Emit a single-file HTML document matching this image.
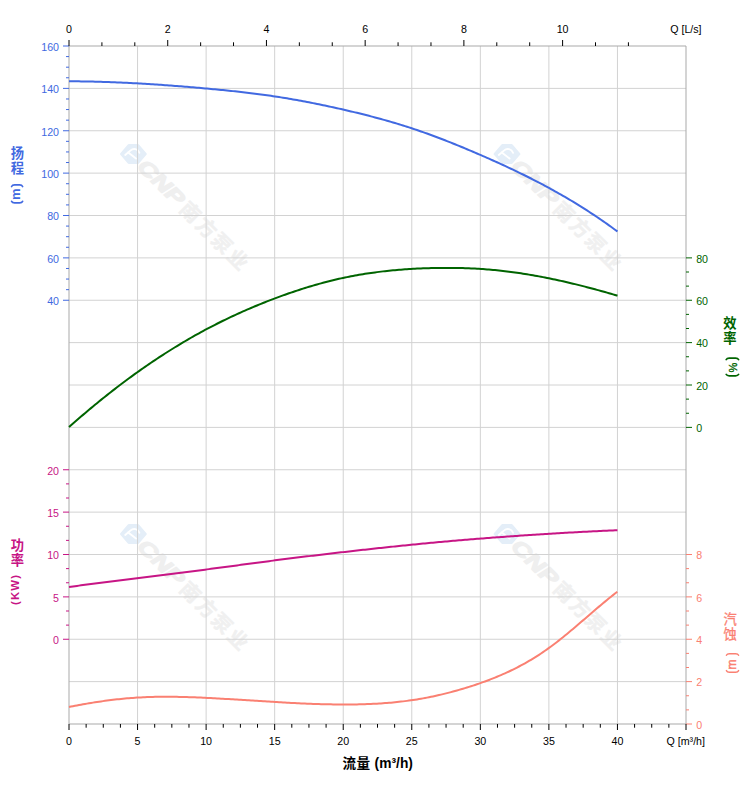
<!DOCTYPE html>
<html><head><meta charset="utf-8"><title>Pump curve</title>
<style>
html,body{margin:0;padding:0;background:#fff;}
body{width:752px;height:797px;overflow:hidden;font-family:"Liberation Sans",sans-serif;}
svg{display:block;}
</style></head><body>
<svg width="752" height="797" viewBox="0 0 752 797">
<rect width="752" height="797" fill="#fff"/>
<g id="wm">
<g transform="translate(133.4 154)">
<path d="M-12.1 0L-4.6 -8.6H4.6L12.1 0L4.6 8.6H-4.6Z" fill="#e4eef8" stroke="#e4eef8" stroke-width="2.6" stroke-linejoin="round"/>
<g fill="none" stroke="#fff" stroke-width="1.9" stroke-linecap="round"><path d="M-8.2 0.9L-2.8 -3.6C0 -6.2 4.6 -5.2 6 -1.2"/><path d="M-5.2 -1.6L2.6 4.6"/></g>
<g transform="rotate(45)">
<text transform="translate(10.5 7.4) scale(1.3 1) skewX(-10)" font-family="'Liberation Sans',sans-serif" font-weight="bold" font-size="20.5" fill="#efefef" stroke="#efefef" stroke-width="1.3" stroke-linejoin="round">CNP</text>
<text x="71.5 94 116 138.5" y="7.9" font-family="'Liberation Sans','Noto Sans CJK SC',sans-serif" font-weight="bold" font-size="20" fill="#f0f0f0" stroke="#f0f0f0" stroke-width="0.4">南方泵业</text>
</g></g>
<g transform="translate(133.4 534)">
<path d="M-12.1 0L-4.6 -8.6H4.6L12.1 0L4.6 8.6H-4.6Z" fill="#e4eef8" stroke="#e4eef8" stroke-width="2.6" stroke-linejoin="round"/>
<g fill="none" stroke="#fff" stroke-width="1.9" stroke-linecap="round"><path d="M-8.2 0.9L-2.8 -3.6C0 -6.2 4.6 -5.2 6 -1.2"/><path d="M-5.2 -1.6L2.6 4.6"/></g>
<g transform="rotate(45)">
<text transform="translate(10.5 7.4) scale(1.3 1) skewX(-10)" font-family="'Liberation Sans',sans-serif" font-weight="bold" font-size="20.5" fill="#efefef" stroke="#efefef" stroke-width="1.3" stroke-linejoin="round">CNP</text>
<text x="71.5 94 116 138.5" y="7.9" font-family="'Liberation Sans','Noto Sans CJK SC',sans-serif" font-weight="bold" font-size="20" fill="#f0f0f0" stroke="#f0f0f0" stroke-width="0.4">南方泵业</text>
</g></g>
<g transform="translate(507 154)">
<path d="M-12.1 0L-4.6 -8.6H4.6L12.1 0L4.6 8.6H-4.6Z" fill="#e4eef8" stroke="#e4eef8" stroke-width="2.6" stroke-linejoin="round"/>
<g fill="none" stroke="#fff" stroke-width="1.9" stroke-linecap="round"><path d="M-8.2 0.9L-2.8 -3.6C0 -6.2 4.6 -5.2 6 -1.2"/><path d="M-5.2 -1.6L2.6 4.6"/></g>
<g transform="rotate(45)">
<text transform="translate(10.5 7.4) scale(1.3 1) skewX(-10)" font-family="'Liberation Sans',sans-serif" font-weight="bold" font-size="20.5" fill="#efefef" stroke="#efefef" stroke-width="1.3" stroke-linejoin="round">CNP</text>
<text x="71.5 94 116 138.5" y="7.9" font-family="'Liberation Sans','Noto Sans CJK SC',sans-serif" font-weight="bold" font-size="20" fill="#f0f0f0" stroke="#f0f0f0" stroke-width="0.4">南方泵业</text>
</g></g>
<g transform="translate(507 534)">
<path d="M-12.1 0L-4.6 -8.6H4.6L12.1 0L4.6 8.6H-4.6Z" fill="#e4eef8" stroke="#e4eef8" stroke-width="2.6" stroke-linejoin="round"/>
<g fill="none" stroke="#fff" stroke-width="1.9" stroke-linecap="round"><path d="M-8.2 0.9L-2.8 -3.6C0 -6.2 4.6 -5.2 6 -1.2"/><path d="M-5.2 -1.6L2.6 4.6"/></g>
<g transform="rotate(45)">
<text transform="translate(10.5 7.4) scale(1.3 1) skewX(-10)" font-family="'Liberation Sans',sans-serif" font-weight="bold" font-size="20.5" fill="#efefef" stroke="#efefef" stroke-width="1.3" stroke-linejoin="round">CNP</text>
<text x="71.5 94 116 138.5" y="7.9" font-family="'Liberation Sans','Noto Sans CJK SC',sans-serif" font-weight="bold" font-size="20" fill="#f0f0f0" stroke="#f0f0f0" stroke-width="0.4">南方泵业</text>
</g></g>
</g>
<path d="M69 88.38H686M69 130.75H686M69 173.12H686M69 215.5H686M69 257.88H686M69 300.25H686M69 342.62H686M69 385H686M69 427.38H686M69 469.75H686M69 512.12H686M69 554.5H686M69 596.88H686M69 639.25H686M69 681.62H686M137.56 46V724M206.11 46V724M274.67 46V724M343.22 46V724M411.78 46V724M480.33 46V724M548.89 46V724M617.44 46V724" stroke="#d2d2d2" stroke-width="1" fill="none"/>
<path d="M69 46H686V724H69Z" stroke="#a9a9a9" stroke-width="1" fill="none"/>
<path d="M69 81.3 71 81.31 73 81.32 75 81.33 77 81.35 79 81.37 81 81.4 83 81.43 85 81.46 87 81.5 89 81.53 91 81.58 93 81.62 95 81.67 97 81.72 99 81.78 101 81.83 103 81.89 105 81.96 107 82.02 109 82.09 111 82.17 113 82.24 115 82.32 117 82.4 119 82.49 121 82.57 123 82.66 125 82.76 127 82.85 129 82.95 131 83.05 133 83.15 135 83.26 137 83.37 139 83.48 141 83.59 143 83.71 145 83.83 147 83.95 149 84.07 151 84.2 153 84.33 155 84.46 157 84.59 159 84.73 161 84.86 163 85 165 85.15 167 85.29 169 85.44 171 85.58 173 85.74 175 85.89 177 86.04 179 86.2 181 86.36 183 86.52 185 86.68 187 86.84 189 87.01 191 87.18 193 87.35 195 87.52 197 87.69 199 87.87 201 88.04 203 88.22 205 88.4 207 88.58 209 88.76 211 88.95 213 89.13 215 89.32 217 89.51 219 89.71 221 89.9 223 90.1 225 90.3 227 90.5 229 90.71 231 90.91 233 91.13 235 91.34 237 91.56 239 91.78 241 92 243 92.23 245 92.46 247 92.7 249 92.94 251 93.18 253 93.43 255 93.68 257 93.93 259 94.19 261 94.46 263 94.73 265 95 267 95.28 269 95.57 271 95.86 273 96.15 275 96.45 277 96.76 279 97.07 281 97.38 283 97.71 285 98.03 287 98.36 289 98.7 291 99.04 293 99.39 295 99.74 297 100.1 299 100.46 301 100.83 303 101.2 305 101.58 307 101.96 309 102.34 311 102.73 313 103.13 315 103.53 317 103.93 319 104.34 321 104.75 323 105.17 325 105.59 327 106.01 329 106.44 331 106.87 333 107.31 335 107.75 337 108.19 339 108.64 341 109.09 343 109.55 345 110.01 347 110.47 349 110.94 351 111.41 353 111.88 355 112.36 357 112.84 359 113.33 361 113.82 363 114.32 365 114.82 367 115.33 369 115.84 371 116.36 373 116.88 375 117.41 377 117.95 379 118.49 381 119.03 383 119.59 385 120.15 387 120.71 389 121.28 391 121.86 393 122.45 395 123.04 397 123.64 399 124.25 401 124.86 403 125.48 405 126.11 407 126.75 409 127.39 411 128.04 413 128.7 415 129.37 417 130.05 419 130.74 421 131.43 423 132.13 425 132.84 427 133.55 429 134.27 431 135 433 135.74 435 136.48 437 137.23 439 137.99 441 138.76 443 139.52 445 140.3 447 141.08 449 141.87 451 142.66 453 143.46 455 144.27 457 145.08 459 145.9 461 146.72 463 147.54 465 148.38 467 149.21 469 150.05 471 150.9 473 151.75 475 152.6 477 153.46 479 154.32 481 155.19 483 156.06 485 156.93 487 157.81 489 158.7 491 159.58 493 160.48 495 161.37 497 162.27 499 163.18 501 164.09 503 165.01 505 165.93 507 166.86 509 167.8 511 168.74 513 169.69 515 170.64 517 171.6 519 172.57 521 173.54 523 174.52 525 175.51 527 176.5 529 177.5 531 178.51 533 179.53 535 180.55 537 181.59 539 182.63 541 183.68 543 184.74 545 185.8 547 186.88 549 187.96 551 189.05 553 190.16 555 191.27 557 192.39 559 193.52 561 194.66 563 195.81 565 196.97 567 198.14 569 199.32 571 200.51 573 201.71 575 202.93 577 204.15 579 205.39 581 206.63 583 207.89 585 209.16 587 210.44 589 211.73 591 213.04 593 214.36 595 215.69 597 217.03 599 218.38 601 219.75 603 221.13 605 222.53 607 223.93 609 225.35 611 226.79 613 228.23 615 229.69 617 231.17 617.44 231.5" stroke="#4169e1" stroke-width="2" fill="none" stroke-linejoin="round" stroke-linecap="butt"/>
<path d="M69 427.1 71 425.32 73 423.55 75 421.8 77 420.05 79 418.31 81 416.59 83 414.87 85 413.17 87 411.47 89 409.79 91 408.11 93 406.45 95 404.8 97 403.15 99 401.52 101 399.9 103 398.29 105 396.69 107 395.1 109 393.52 111 391.95 113 390.39 115 388.84 117 387.3 119 385.77 121 384.26 123 382.75 125 381.25 127 379.77 129 378.29 131 376.83 133 375.37 135 373.93 137 372.5 139 371.07 141 369.66 143 368.26 145 366.87 147 365.49 149 364.12 151 362.76 153 361.41 155 360.07 157 358.74 159 357.42 161 356.11 163 354.81 165 353.53 167 352.25 169 350.98 171 349.73 173 348.48 175 347.25 177 346.03 179 344.81 181 343.61 183 342.42 185 341.24 187 340.06 189 338.9 191 337.75 193 336.61 195 335.48 197 334.36 199 333.26 201 332.16 203 331.07 205 329.99 207 328.93 209 327.87 211 326.83 213 325.79 215 324.77 217 323.75 219 322.75 221 321.75 223 320.77 225 319.79 227 318.83 229 317.87 231 316.92 233 315.99 235 315.06 237 314.14 239 313.23 241 312.33 243 311.44 245 310.56 247 309.69 249 308.83 251 307.97 253 307.13 255 306.29 257 305.46 259 304.64 261 303.83 263 303.03 265 302.23 267 301.44 269 300.66 271 299.89 273 299.13 275 298.37 277 297.63 279 296.89 281 296.16 283 295.43 285 294.72 287 294.01 289 293.31 291 292.62 293 291.94 295 291.26 297 290.6 299 289.94 301 289.3 303 288.66 305 288.03 307 287.41 309 286.8 311 286.2 313 285.61 315 285.03 317 284.46 319 283.89 321 283.34 323 282.8 325 282.27 327 281.74 329 281.23 331 280.73 333 280.24 335 279.76 337 279.29 339 278.83 341 278.38 343 277.95 345 277.52 347 277.11 349 276.7 351 276.31 353 275.93 355 275.55 357 275.19 359 274.84 361 274.5 363 274.17 365 273.85 367 273.54 369 273.23 371 272.94 373 272.66 375 272.39 377 272.12 379 271.87 381 271.62 383 271.38 385 271.16 387 270.94 389 270.73 391 270.52 393 270.33 395 270.15 397 269.97 399 269.8 401 269.64 403 269.48 405 269.34 407 269.2 409 269.07 411 268.95 413 268.83 415 268.72 417 268.62 419 268.52 421 268.44 423 268.36 425 268.28 427 268.21 429 268.15 431 268.1 433 268.05 435 268.01 437 267.98 439 267.95 441 267.93 443 267.91 445 267.9 447 267.9 449 267.9 451 267.91 453 267.93 455 267.95 457 267.98 459 268.02 461 268.06 463 268.11 465 268.17 467 268.24 469 268.31 471 268.4 473 268.49 475 268.59 477 268.7 479 268.82 481 268.94 483 269.08 485 269.23 487 269.38 489 269.55 491 269.72 493 269.9 495 270.09 497 270.29 499 270.5 501 270.72 503 270.94 505 271.18 507 271.42 509 271.67 511 271.93 513 272.2 515 272.47 517 272.75 519 273.05 521 273.34 523 273.65 525 273.97 527 274.29 529 274.62 531 274.96 533 275.3 535 275.65 537 276.01 539 276.38 541 276.76 543 277.14 545 277.53 547 277.92 549 278.32 551 278.73 553 279.15 555 279.57 557 280 559 280.43 561 280.88 563 281.32 565 281.78 567 282.24 569 282.71 571 283.18 573 283.66 575 284.14 577 284.63 579 285.13 581 285.63 583 286.14 585 286.65 587 287.17 589 287.7 591 288.23 593 288.76 595 289.3 597 289.85 599 290.4 601 290.95 603 291.51 605 292.08 607 292.65 609 293.22 611 293.8 613 294.39 615 294.98 617 295.57 617.44 295.7" stroke="#006400" stroke-width="2" fill="none" stroke-linejoin="round" stroke-linecap="butt"/>
<path d="M69 587 71 586.72 73 586.45 75 586.17 77 585.9 79 585.63 81 585.36 83 585.09 85 584.82 87 584.55 89 584.29 91 584.02 93 583.76 95 583.5 97 583.24 99 582.98 101 582.72 103 582.46 105 582.2 107 581.94 109 581.69 111 581.43 113 581.18 115 580.92 117 580.67 119 580.42 121 580.17 123 579.92 125 579.66 127 579.41 129 579.16 131 578.92 133 578.67 135 578.42 137 578.17 139 577.92 141 577.67 143 577.43 145 577.18 147 576.93 149 576.68 151 576.44 153 576.19 155 575.94 157 575.69 159 575.45 161 575.2 163 574.95 165 574.7 167 574.45 169 574.21 171 573.96 173 573.71 175 573.46 177 573.21 179 572.96 181 572.71 183 572.46 185 572.2 187 571.95 189 571.7 191 571.44 193 571.19 195 570.93 197 570.68 199 570.42 201 570.16 203 569.9 205 569.64 207 569.38 209 569.12 211 568.86 213 568.6 215 568.33 217 568.07 219 567.8 221 567.54 223 567.27 225 567 227 566.74 229 566.47 231 566.2 233 565.93 235 565.66 237 565.39 239 565.13 241 564.86 243 564.59 245 564.32 247 564.05 249 563.78 251 563.52 253 563.25 255 562.98 257 562.72 259 562.45 261 562.19 263 561.92 265 561.66 267 561.4 269 561.14 271 560.88 273 560.62 275 560.36 277 560.1 279 559.84 281 559.59 283 559.33 285 559.08 287 558.83 289 558.58 291 558.33 293 558.08 295 557.83 297 557.58 299 557.34 301 557.09 303 556.85 305 556.6 307 556.36 309 556.12 311 555.88 313 555.64 315 555.4 317 555.16 319 554.92 321 554.69 323 554.45 325 554.21 327 553.98 329 553.75 331 553.51 333 553.28 335 553.05 337 552.82 339 552.59 341 552.36 343 552.13 345 551.9 347 551.67 349 551.44 351 551.21 353 550.99 355 550.76 357 550.53 359 550.31 361 550.09 363 549.86 365 549.64 367 549.42 369 549.2 371 548.98 373 548.76 375 548.54 377 548.32 379 548.11 381 547.89 383 547.67 385 547.46 387 547.25 389 547.04 391 546.83 393 546.62 395 546.41 397 546.2 399 545.99 401 545.79 403 545.58 405 545.38 407 545.18 409 544.98 411 544.78 413 544.58 415 544.38 417 544.19 419 543.99 421 543.8 423 543.61 425 543.42 427 543.23 429 543.04 431 542.85 433 542.66 435 542.48 437 542.29 439 542.11 441 541.93 443 541.75 445 541.57 447 541.39 449 541.22 451 541.04 453 540.87 455 540.69 457 540.52 459 540.35 461 540.18 463 540.01 465 539.85 467 539.68 469 539.51 471 539.35 473 539.19 475 539.03 477 538.87 479 538.71 481 538.55 483 538.39 485 538.23 487 538.08 489 537.92 491 537.77 493 537.62 495 537.47 497 537.32 499 537.17 501 537.02 503 536.88 505 536.73 507 536.58 509 536.44 511 536.3 513 536.16 515 536.02 517 535.88 519 535.74 521 535.6 523 535.47 525 535.33 527 535.2 529 535.07 531 534.93 533 534.8 535 534.67 537 534.54 539 534.42 541 534.29 543 534.16 545 534.04 547 533.92 549 533.79 551 533.67 553 533.55 555 533.43 557 533.31 559 533.2 561 533.08 563 532.96 565 532.85 567 532.74 569 532.62 571 532.51 573 532.4 575 532.29 577 532.18 579 532.08 581 531.97 583 531.86 585 531.76 587 531.66 589 531.55 591 531.45 593 531.35 595 531.25 597 531.15 599 531.06 601 530.96 603 530.86 605 530.77 607 530.67 609 530.58 611 530.49 613 530.4 615 530.31 617 530.22 617.44 530.2" stroke="#c71585" stroke-width="2" fill="none" stroke-linejoin="round" stroke-linecap="butt"/>
<path d="M69 707 71 706.6 73 706.21 75 705.82 77 705.43 79 705.06 81 704.69 83 704.33 85 703.97 87 703.62 89 703.28 91 702.95 93 702.62 95 702.31 97 702 99 701.69 101 701.4 103 701.12 105 700.84 107 700.57 109 700.31 111 700.06 113 699.81 115 699.58 117 699.35 119 699.14 121 698.93 123 698.73 125 698.54 127 698.36 129 698.19 131 698.03 133 697.88 135 697.74 137 697.61 139 697.49 141 697.38 143 697.28 145 697.19 147 697.11 149 697.03 151 696.97 153 696.91 155 696.87 157 696.83 159 696.8 161 696.78 163 696.76 165 696.75 167 696.75 169 696.76 171 696.77 173 696.79 175 696.82 177 696.85 179 696.88 181 696.93 183 696.98 185 697.03 187 697.09 189 697.15 191 697.22 193 697.29 195 697.37 197 697.45 199 697.53 201 697.62 203 697.71 205 697.81 207 697.9 209 698 211 698.1 213 698.21 215 698.31 217 698.42 219 698.53 221 698.64 223 698.76 225 698.88 227 698.99 229 699.11 231 699.23 233 699.35 235 699.48 237 699.6 239 699.73 241 699.85 243 699.98 245 700.1 247 700.23 249 700.36 251 700.49 253 700.61 255 700.74 257 700.87 259 700.99 261 701.12 263 701.25 265 701.37 267 701.5 269 701.62 271 701.74 273 701.86 275 701.98 277 702.1 279 702.22 281 702.34 283 702.45 285 702.56 287 702.67 289 702.78 291 702.89 293 702.99 295 703.09 297 703.19 299 703.29 301 703.38 303 703.47 305 703.56 307 703.64 309 703.72 311 703.8 313 703.88 315 703.95 317 704.01 319 704.08 321 704.14 323 704.19 325 704.24 327 704.29 329 704.33 331 704.37 333 704.4 335 704.43 337 704.45 339 704.47 341 704.48 343 704.49 345 704.49 347 704.49 349 704.48 351 704.47 353 704.45 355 704.42 357 704.38 359 704.34 361 704.3 363 704.24 365 704.18 367 704.11 369 704.03 371 703.95 373 703.86 375 703.76 377 703.65 379 703.53 381 703.4 383 703.27 385 703.12 387 702.97 389 702.8 391 702.63 393 702.45 395 702.25 397 702.05 399 701.83 401 701.61 403 701.37 405 701.13 407 700.87 409 700.6 411 700.31 413 700.02 415 699.72 417 699.4 419 699.07 421 698.72 423 698.37 425 698 427 697.62 429 697.23 431 696.82 433 696.4 435 695.97 437 695.53 439 695.08 441 694.61 443 694.13 445 693.64 447 693.14 449 692.63 451 692.1 453 691.57 455 691.02 457 690.46 459 689.89 461 689.31 463 688.72 465 688.11 467 687.5 469 686.87 471 686.24 473 685.59 475 684.93 477 684.26 479 683.58 481 682.88 483 682.17 485 681.44 487 680.7 489 679.95 491 679.18 493 678.39 495 677.59 497 676.77 499 675.93 501 675.08 503 674.2 505 673.31 507 672.4 509 671.47 511 670.52 513 669.55 515 668.56 517 667.54 519 666.51 521 665.45 523 664.36 525 663.26 527 662.13 529 660.97 531 659.79 533 658.58 535 657.34 537 656.08 539 654.79 541 653.47 543 652.12 545 650.74 547 649.34 549 647.9 551 646.45 553 644.96 555 643.45 557 641.92 559 640.37 561 638.79 563 637.19 565 635.57 567 633.93 569 632.27 571 630.6 573 628.92 575 627.23 577 625.53 579 623.81 581 622.1 583 620.37 585 618.65 587 616.92 589 615.2 591 613.47 593 611.75 595 610.04 597 608.33 599 606.63 601 604.95 603 603.27 605 601.61 607 599.96 609 598.33 611 596.72 613 595.14 615 593.57 617 592.03 617.3 591.8" stroke="#fa8072" stroke-width="2" fill="none" stroke-linejoin="round" stroke-linecap="butt"/>
<path d="M69 46H63M69 56.59H66M69 67.19H66M69 77.78H66M69 88.38H63M69 98.97H66M69 109.56H66M69 120.16H66M69 130.75H63M69 141.34H66M69 151.94H66M69 162.53H66M69 173.12H63M69 183.72H66M69 194.31H66M69 204.91H66M69 215.5H63M69 226.09H66M69 236.69H66M69 247.28H66M69 257.88H63M69 268.47H66M69 279.06H66M69 289.66H66M69 300.25H63" stroke="#4169e1" stroke-width="1" fill="none"/>
<path d="M686 257.88H692M686 272H689M686 286.12H689M686 300.25H692M686 314.38H689M686 328.5H689M686 342.62H692M686 356.75H689M686 370.88H689M686 385H692M686 399.12H689M686 413.25H689M686 427.38H692" stroke="#006400" stroke-width="1" fill="none"/>
<path d="M69 469.75H63M69 483.88H66M69 498H66M69 512.12H63M69 526.25H66M69 540.38H66M69 554.5H63M69 568.62H66M69 582.75H66M69 596.88H63M69 611H66M69 625.12H66M69 639.25H63" stroke="#c71585" stroke-width="1" fill="none"/>
<path d="M686 554.5H692M686 568.62H689M686 582.75H689M686 596.88H692M686 611H689M686 625.12H689M686 639.25H692M686 653.38H689M686 667.5H689M686 681.62H692M686 695.75H689M686 709.88H689M686 724H692" stroke="#fa8072" stroke-width="1" fill="none"/>
<path d="M69 46V40M101.91 46V42.3M134.81 46V42.3M167.72 46V40M200.63 46V42.3M233.53 46V42.3M266.44 46V40M299.35 46V42.3M332.25 46V42.3M365.16 46V40M398.07 46V42.3M430.97 46V42.3M463.88 46V40M496.79 46V42.3M529.69 46V42.3M562.6 46V40M595.51 46V42.3M628.41 46V42.3M69 724V730M86.14 724V727.7M103.28 724V727.7M120.42 724V727.7M137.56 724V730M154.69 724V727.7M171.83 724V727.7M188.97 724V727.7M206.11 724V730M223.25 724V727.7M240.39 724V727.7M257.53 724V727.7M274.67 724V730M291.81 724V727.7M308.94 724V727.7M326.08 724V727.7M343.22 724V730M360.36 724V727.7M377.5 724V727.7M394.64 724V727.7M411.78 724V730M428.92 724V727.7M446.06 724V727.7M463.19 724V727.7M480.33 724V730M497.47 724V727.7M514.61 724V727.7M531.75 724V727.7M548.89 724V730M566.03 724V727.7M583.17 724V727.7M600.31 724V727.7M617.44 724V730M634.58 724V727.7M651.72 724V727.7M668.86 724V727.7M686 724V730" stroke="#000" stroke-width="1" fill="none"/>
<g font-family="'Liberation Sans',sans-serif" font-size="10.67">
<g text-anchor="middle" fill="#000">
<text x="69" y="33">0</text>
<text x="167.72" y="33">2</text>
<text x="266.44" y="33">4</text>
<text x="365.16" y="33">6</text>
<text x="463.88" y="33">8</text>
<text x="562.6" y="33">10</text>
<text x="69" y="744.7">0</text>
<text x="137.56" y="744.7">5</text>
<text x="206.11" y="744.7">10</text>
<text x="274.67" y="744.7">15</text>
<text x="343.22" y="744.7">20</text>
<text x="411.78" y="744.7">25</text>
<text x="480.33" y="744.7">30</text>
<text x="548.89" y="744.7">35</text>
<text x="617.44" y="744.7">40</text>
</g>
<text x="670.2" y="33" fill="#000">Q [L/s]</text>
<text x="666.5" y="744.7" fill="#000">Q [m³/h]</text>
<g text-anchor="end" fill="#4169e1"><text x="59" y="50.8">160</text><text x="59" y="93.17">140</text><text x="59" y="135.55">120</text><text x="59" y="177.93">100</text><text x="59" y="220.3">80</text><text x="59" y="262.68">60</text><text x="59" y="305.05">40</text></g>
<g text-anchor="start" fill="#006400"><text x="696.2" y="262.68">80</text><text x="696.2" y="305.05">60</text><text x="696.2" y="347.43">40</text><text x="696.2" y="389.8">20</text><text x="696.2" y="432.18">0</text></g>
<g text-anchor="end" fill="#c71585"><text x="59" y="474.55">20</text><text x="59" y="516.92">15</text><text x="59" y="559.3">10</text><text x="59" y="601.67">5</text><text x="59" y="644.05">0</text></g>
<g text-anchor="start" fill="#fa8072"><text x="696.2" y="559.3">8</text><text x="696.2" y="601.67">6</text><text x="696.2" y="644.05">4</text><text x="696.2" y="686.42">2</text><text x="696.2" y="728.8">0</text></g>
</g>
<text x="10.65" y="158.05" font-family="'Liberation Sans','Noto Sans CJK SC',sans-serif" font-size="13.3" font-weight="bold" fill="#4169e1">扬</text>
<text x="10.65" y="173.45" font-family="'Liberation Sans','Noto Sans CJK SC',sans-serif" font-size="13.3" font-weight="bold" fill="#4169e1">程</text>
<path d="M11.6 186.5C12 185.6 12.9 184.9 14.6 184.9H19.6C21.3 184.9 22.2 185.6 22.6 186.5" fill="none" stroke="#4169e1" stroke-width="1.7" stroke-linecap="round"/>
<text transform="translate(20 199.9) rotate(-90)" font-family="'Liberation Sans',sans-serif" font-size="13" font-weight="bold" letter-spacing="0" fill="#4169e1">m</text>
<path d="M11.6 201.3C12 202.2 12.9 202.9 14.6 202.9H19.6C21.3 202.9 22.2 202.2 22.6 201.3" fill="none" stroke="#4169e1" stroke-width="1.7" stroke-linecap="round"/>
<text x="10.7" y="550.35" font-family="'Liberation Sans','Noto Sans CJK SC',sans-serif" font-size="13.3" font-weight="bold" fill="#c71585">功</text>
<text x="10.7" y="565.45" font-family="'Liberation Sans','Noto Sans CJK SC',sans-serif" font-size="13.3" font-weight="bold" fill="#c71585">率</text>
<text transform="translate(19 605) rotate(-90)" font-family="'Liberation Sans',sans-serif" font-size="11.3" font-weight="bold" letter-spacing="1.2" fill="#c71585">(KW)</text>
<text x="723.35" y="327.95" font-family="'Liberation Sans','Noto Sans CJK SC',sans-serif" font-size="13.3" font-weight="bold" fill="#006400">效</text>
<text x="723.35" y="343.45" font-family="'Liberation Sans','Noto Sans CJK SC',sans-serif" font-size="13.3" font-weight="bold" fill="#006400">率</text>
<path d="M726.2 359.6C726.6 358.9 727.5 358.2 729.2 358.2H735.6C737.3 358.2 738.2 358.9 738.6 359.6" fill="none" stroke="#006400" stroke-width="1.7" stroke-linecap="round"/>
<text transform="translate(736.6 372.6) rotate(-90)" font-family="'Liberation Sans',sans-serif" font-size="11" letter-spacing="0" fill="#006400" stroke="#006400" stroke-width="0.35">%</text>
<path d="M726.2 374.4C726.6 375.1 727.5 375.8 729.2 375.8H735.6C737.3 375.8 738.2 375.1 738.6 374.4" fill="none" stroke="#006400" stroke-width="1.7" stroke-linecap="round"/>
<text x="723.55" y="624.05" font-family="'Liberation Sans','Noto Sans CJK SC',sans-serif" font-size="13.3" fill="#fa8072" stroke="#fa8072" stroke-width="0.29">汽</text>
<text x="723.55" y="639.25" font-family="'Liberation Sans','Noto Sans CJK SC',sans-serif" font-size="13.3" fill="#fa8072" stroke="#fa8072" stroke-width="0.29">蚀</text>
<path d="M726.4 655.3C726.8 654.4 727.7 653.7 729.4 653.7H735.6C737.3 653.7 738.2 654.4 738.6 655.3" fill="none" stroke="#fa8072" stroke-width="1.4" stroke-linecap="round"/>
<text transform="translate(736 669.6) rotate(-90)" font-family="'Liberation Sans',sans-serif" font-size="12" letter-spacing="0" fill="#fa8072" stroke="#fa8072" stroke-width="0.45">m</text>
<path d="M726.4 670.6C726.8 671.5 727.7 672.2 729.4 672.2H735.6C737.3 672.2 738.2 671.5 738.6 670.6" fill="none" stroke="#fa8072" stroke-width="1.4" stroke-linecap="round"/>
<text x="342.5 356.5" y="768.17" font-family="'Liberation Sans','Noto Sans CJK SC',sans-serif" font-size="13.6" font-weight="bold" fill="#000">流量</text>
<text x="374.6" y="768" font-family="'Liberation Sans',sans-serif" font-size="13.8" font-weight="bold" fill="#000">(m³/h)</text>
</svg>
</body></html>
